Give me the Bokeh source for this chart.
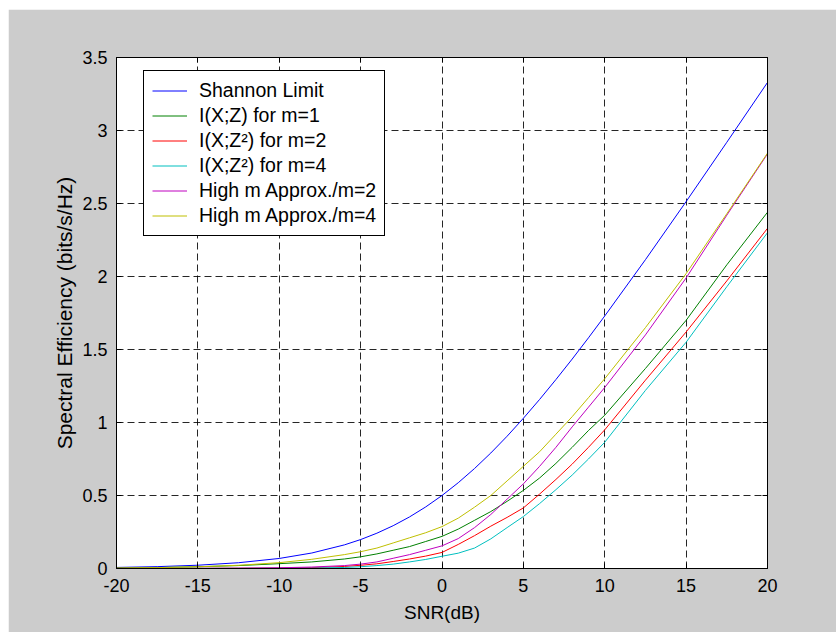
from bokeh.plotting import figure
from bokeh.models import (Range1d, FixedTicker, NumeralTickFormatter, LinearAxis,
                          Legend, LegendItem)
from bokeh.embed import file_html
from bokeh.resources import INLINE

# SNR in dB
snr_db = [-20, -17.5, -15, -12.5, -10, -8, -6, -5, -4, -3, -2, -1, 0, 1, 2, 3, 4, 5,
          6, 7, 8, 9, 10, 12.5, 15, 17.5, 20]

shannon = [0.0072, 0.0127, 0.0225, 0.0395, 0.0688, 0.1061, 0.1617, 0.1982, 0.2418, 0.2932,
           0.3529, 0.4218, 0.500, 0.5877, 0.6849, 0.7912, 0.9060, 1.0289, 1.1582, 1.2941,
           1.4346, 1.5801, 1.7297, 2.1152, 2.5131, 2.9194, 3.3291]
m1_xz = [0.003, 0.006, 0.012, 0.020, 0.033, 0.045, 0.065, 0.080, 0.100, 0.125, 0.150,
         0.185, 0.220, 0.270, 0.330, 0.390, 0.460, 0.535, 0.620, 0.720, 0.830, 0.945,
         1.050, 1.370, 1.700, 2.080, 2.440]
m2_xz2 = [0.0005, 0.001, 0.001, 0.002, 0.003, 0.006, 0.014, 0.022, 0.032, 0.048, 0.065,
          0.085, 0.110, 0.165, 0.225, 0.290, 0.350, 0.415, 0.510, 0.610, 0.715, 0.830,
          0.950, 1.290, 1.620, 1.970, 2.330]
m4_xz2 = [0.0003, 0.0005, 0.001, 0.001, 0.002, 0.003, 0.007, 0.012, 0.020, 0.030, 0.045,
          0.062, 0.084, 0.105, 0.140, 0.203, 0.280, 0.356, 0.445, 0.540, 0.640, 0.750,
          0.865, 1.220, 1.550, 1.930, 2.300]
approx_m2 = [0.0005, 0.001, 0.001, 0.002, 0.005, 0.010, 0.020, 0.030, 0.045, 0.070, 0.095,
             0.125, 0.155, 0.205, 0.280, 0.370, 0.475, 0.580, 0.700, 0.830, 0.970, 1.105,
             1.240, 1.600, 1.990, 2.420, 2.840]
approx_m4 = [0.003, 0.006, 0.012, 0.022, 0.040, 0.063, 0.095, 0.115, 0.140, 0.175, 0.210,
             0.245, 0.287, 0.345, 0.420, 0.500, 0.600, 0.700, 0.800, 0.920, 1.040, 1.170,
             1.300, 1.650, 2.020, 2.430, 2.845]

labels = ["Shannon Limit", "I(X;Z) for m=1", "I(X;Z²) for m=2", "I(X;Z²) for m=4",
          "High m Approx./m=2", "High m Approx./m=4"]
colors = ["#0000ff", "#008000", "#ff0000", "#00bfbf", "#bf00bf", "#bfbf00"]
series = [shannon, m1_xz, m2_xz2, m4_xz2, approx_m2, approx_m4]

x_ticks = [-20, -15, -10, -5, 0, 5, 10, 15, 20]
y_ticks = [0, 0.5, 1, 1.5, 2, 2.5, 3, 3.5]

FONT = "Liberation Sans"

p = figure(width=828, height=623, output_backend="svg", toolbar_location=None,
           x_range=Range1d(-20, 20), y_range=Range1d(0, 3.5),
           min_border_left=108, min_border_right=69, min_border_top=48, min_border_bottom=64,
           background_fill_color="white", border_fill_color="#cccccc",
           outline_line_color="black", outline_line_width=1)
p.margin = (9, 0, 0, 8)

renderers = []
for ys, c in zip(series, colors):
    r = p.line(snr_db, ys, line_color=c, line_width=1)
    renderers.append(r)

for ax in p.xaxis + p.yaxis:
    ax.major_tick_in = 5
    ax.major_tick_out = 0
    ax.minor_tick_line_color = None
    ax.axis_line_color = "black"
    ax.major_tick_line_color = "black"
    ax.major_label_text_font = FONT
    ax.major_label_text_font_size = "18px"
    ax.major_label_text_color = "black"
    ax.axis_label_text_font = FONT
    ax.axis_label_text_font_style = "normal"
    ax.axis_label_text_color = "black"

p.xaxis.ticker = FixedTicker(ticks=x_ticks)
p.yaxis.ticker = FixedTicker(ticks=y_ticks)
p.xaxis.formatter = NumeralTickFormatter(format="0.[0]")
p.yaxis.formatter = NumeralTickFormatter(format="0.[0]")
p.xaxis.axis_label = "SNR(dB)"
p.yaxis.axis_label = "Spectral Efficiency (bits/s/Hz)"
p.xaxis.axis_label_text_font_size = "19px"
p.yaxis.axis_label_text_font_size = "21px"
p.xaxis.major_label_standoff = 10
p.xaxis.axis_label_standoff = 7
p.yaxis.major_label_standoff = 9
p.yaxis.axis_label_standoff = 3

# ticks on top and right (MATLAB box)
top = LinearAxis(ticker=FixedTicker(ticks=x_ticks), major_tick_in=5, major_tick_out=0,
                 minor_tick_line_color=None, major_label_text_color=None,
                 axis_line_color="black", major_tick_line_color="black")
right = LinearAxis(ticker=FixedTicker(ticks=y_ticks), major_tick_in=5, major_tick_out=0,
                   minor_tick_line_color=None, major_label_text_color=None,
                   axis_line_color="black", major_tick_line_color="black")
p.add_layout(top, "above")
p.add_layout(right, "right")

for g in (p.xgrid[0], p.ygrid[0]):
    g.grid_line_color = "black"
    g.grid_line_dash = "7 4"
    g.grid_line_alpha = 0.85
    g.grid_line_width = 1
p.xgrid.ticker = FixedTicker(ticks=x_ticks)
p.ygrid.ticker = FixedTicker(ticks=y_ticks)

legend = Legend(items=[LegendItem(label=l, renderers=[r]) for l, r in zip(labels, renderers)],
                location=(27, 332), padding=8, spacing=2, label_height=23, glyph_height=23,
                glyph_width=35, label_standoff=12, margin=0,
                label_text_font=FONT, label_text_font_size="19.5px", label_text_color="black",
                border_line_color="black", border_line_width=1, border_line_alpha=1,
                background_fill_color="white", background_fill_alpha=1)
p.add_layout(legend, "center")

html = file_html(p, INLINE)
open("out.html", "w").write(html)
